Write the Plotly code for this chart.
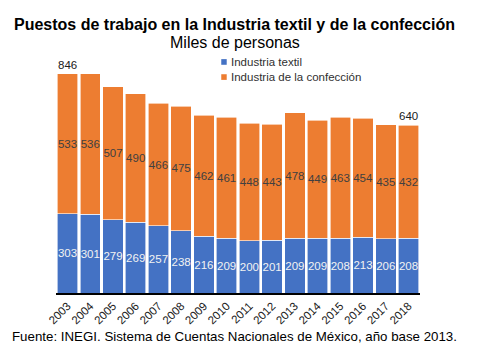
import plotly.graph_objects as go

years = [str(y) for y in range(2003, 2019)]
textil = [303, 301, 279, 269, 257, 238, 216, 209, 200, 201, 209, 209, 208, 213, 206, 208]
confeccion = [533, 536, 507, 490, 466, 475, 462, 461, 448, 443, 478, 449, 463, 454, 435, 432]
total_labels = {"2003": "846", "2018": "640"}
series_names = ["Industria textil", "Industria de la confección"]

BLUE = "#4472C4"
ORANGE = "#ED7D31"
FONT = "Liberation Sans, Arial, sans-serif"

fig = go.Figure()
fig.add_trace(go.Bar(
    x=years, y=textil, name=series_names[0],
    marker=dict(color=BLUE, line=dict(color="white", width=0.6)),
    text=[str(v) for v in textil], textposition="inside", insidetextanchor="middle",
    constraintext="none", cliponaxis=False,
    textfont=dict(color="#F2F2F2", size=11.5, family=FONT), textangle=0,
))
fig.add_trace(go.Bar(
    x=years, y=confeccion, name=series_names[1],
    marker=dict(color=ORANGE, line=dict(color="white", width=0.6)),
    text=[str(v) for v in confeccion], textposition="inside", insidetextanchor="middle",
    constraintext="none", cliponaxis=False,
    textfont=dict(color="#404040", size=11.5, family=FONT), textangle=0,
))

annotations = []
for i, yr in enumerate(years):
    if yr in total_labels:
        annotations.append(dict(
            x=i, y=textil[i] + confeccion[i], xref="x", yref="y",
            text=total_labels[yr], showarrow=False, yanchor="bottom", yshift=1,
            font=dict(size=11.5, color="#202020", family=FONT),
        ))

annotations += [
    dict(text="<b>Puestos de trabajo en la Industria textil y de la confección</b>",
         xref="paper", yref="paper", x=0.491, y=1.138, xanchor="center", yanchor="middle",
         showarrow=False, font=dict(size=16, color="black", family=FONT)),
    dict(text="Miles de personas",
         xref="paper", yref="paper", x=0.491, y=1.0616, xanchor="center", yanchor="middle",
         showarrow=False, font=dict(size=16, color="black", family=FONT)),
    dict(text="Fuente: INEGI. Sistema de Cuentas Nacionales de México, año base 2013.",
         xref="paper", yref="paper", x=0.491, y=-0.1826, xanchor="center", yanchor="middle",
         showarrow=False, font=dict(size=13.3, color="black", family=FONT)),
]

# manual legend (compact spacing like the reference)
shapes = []
leg_colors = [BLUE, ORANGE]
leg_y = [0.979, 0.915]
for name, col, ly in zip(series_names, leg_colors, leg_y):
    shapes.append(dict(type="rect", xref="paper", yref="paper",
                       x0=0.454, x1=0.469, y0=ly - 0.012, y1=ly + 0.012,
                       fillcolor=col, line=dict(width=0)))
    annotations.append(dict(text=name, xref="paper", yref="paper", x=0.475, y=ly,
                            xanchor="left", yanchor="middle", showarrow=False,
                            font=dict(size=11.5, color="#303030", family=FONT)))

fig.update_layout(
    width=494, height=363,
    margin=dict(l=56, r=74, t=57, b=70, pad=0),
    barmode="stack", bargap=0.1,
    plot_bgcolor="white", paper_bgcolor="white",
    font=dict(family=FONT),
    showlegend=False,
    annotations=annotations,
    shapes=shapes,
    xaxis=dict(type="category", showline=True, linecolor="black", linewidth=1.5, ticks="",
               tickangle=-45, tickfont=dict(size=11.5, color="#202020", family=FONT),
               showgrid=False, automargin=False),
    yaxis=dict(range=[0, 900], visible=False, showgrid=False),
)

fig.write_html("out.html", config={"displayModeBar": False},
               post_script="document.body.style.margin='0';")
